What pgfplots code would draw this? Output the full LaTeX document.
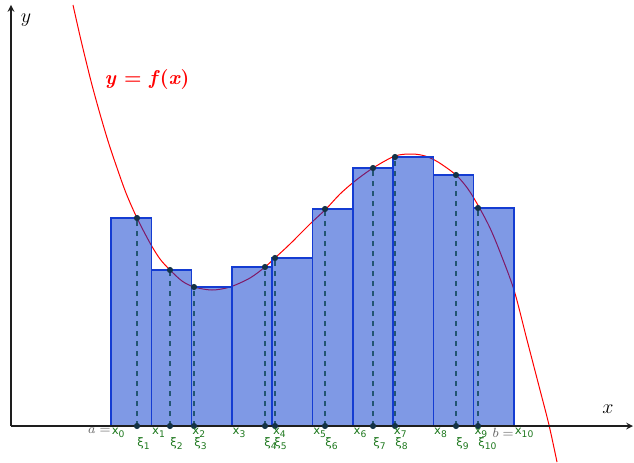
\documentclass[border=0pt]{standalone}
\usepackage{pgfplots}
\pgfplotsset{compat=1.18}
\usepackage{fontspec}
\newfontfamily\lab{DejaVu Sans}
\definecolor{barblue}{RGB}{0,51,204}
\definecolor{bardraw}{RGB}{20,60,210}
\definecolor{lblgreen}{RGB}{30,120,30}
\definecolor{ptdark}{RGB}{20,50,70}
\definecolor{dashc}{RGB}{35,85,115}
\definecolor{axgray}{RGB}{30,30,30}
\newcommand\xsub[1]{{\lab\fontsize{7}{8}\selectfont x\raisebox{-0.45ex}{\fontsize{5.5}{6}\selectfont #1}}}
\newcommand\ksub[1]{{\lab\fontsize{7}{8}\selectfont ξ\raisebox{-0.45ex}{\fontsize{5.5}{6}\selectfont #1}}}
\tikzset{glab/.style={anchor=north west, inner sep=0pt, text=lblgreen}}
\begin{document}
\begin{tikzpicture}
\begin{axis}[name=ax,x=0.6pt,y=0.6pt,xmin=-11,xmax=623,ymin=-36,ymax=426,hide axis]
\addplot[draw=none] coordinates {(-11,-36)(623,426)};
\addplot[red, line width=0.6pt, smooth, tension=0.5] coordinates {
(62,421)(69,390)(75,365)(81,341)(89,312)(97,285)(105,261)(115,233)(126,208)
(139,183)(149,167)(159,156)(171,145)(183,139)(201,136)(219,139)(239,148)
(254,159)(265,169)(279,182)(299,202)(315,217)(329,232)(344,245)(362,258)
(384,270)(401,272)(414,270)(427,264)(445,251)(457,237)(468,219)(479,198)
(489,174)(503,136)(516,86)(529,36)(538,1)(546,-36)};
\addplot[ybar interval, fill=barblue, fill opacity=0.5, draw=bardraw, line width=0.9pt] coordinates {
(100,208)(140.3,156)(180.6,139)(220.9,159)(261.2,168)(301.5,217)(341.8,258)(382.1,269)(422.4,251)(462.7,218)(503,218)};
\addplot[ycomb, dashc, line width=0.65pt, dash pattern=on 3.3pt off 2.7pt] coordinates {
(126,208)(159,156)(183,139)(254,159)(264,168)(314,217)(362,258)(384,269)(445,251)(467,218)};
\addplot[only marks, mark=*, mark size=1.6pt, ptdark] coordinates {
(126,208)(159,156)(183,139)(254,159)(264,168)(314,217)(362,258)(384,269)(445,251)(467,218)};
\addplot[only marks, mark=*, mark size=1.6pt, ptdark] coordinates {
(126,0)(159,0)(183,0)(254,0)(264,0)(314,0)(362,0)(384,0)(445,0)(467,0)};
\draw[axgray, line width=0.8pt, -stealth] (axis cs:0,0) -- (axis cs:622,0);
\draw[axgray, line width=0.8pt, -stealth] (axis cs:0,0) -- (axis cs:0,421);
\end{axis}
\begin{scope}[shift={(ax.south west)}]
\begin{scope}[shift={(6.6pt,21.6pt)}, x=0.6pt, y=0.6pt]
\node at (15,406) {\fontsize{12}{14}\selectfont $y$};
\node at (597,17) {\fontsize{12}{14}\selectfont $x$};
\node[text=red] at (136,346) {\fontsize{12}{14}\selectfont\bfseries \textit{y} = \textit{f}(\textit{x})};
\node[glab] at (100.5,-2) {\xsub{0}};
\node[glab] at (140.8,-2) {\xsub{1}};
\node[glab] at (181.1,-2) {\xsub{2}};
\node[glab] at (221.4,-2) {\xsub{3}};
\node[glab] at (261.7,-2) {\xsub{4}};
\node[glab] at (302,-2) {\xsub{5}};
\node[glab] at (342.3,-2) {\xsub{6}};
\node[glab] at (382.6,-2) {\xsub{7}};
\node[glab] at (422.9,-2) {\xsub{8}};
\node[glab] at (463.2,-2) {\xsub{9}};
\node[glab] at (503.5,-2) {\xsub{10}};
\node[glab] at (126,-11) {\ksub{1}};
\node[glab] at (159,-11) {\ksub{2}};
\node[glab] at (183,-11) {\ksub{3}};
\node[glab] at (253,-11) {\ksub{4}};
\node[glab] at (263,-11) {\ksub{5}};
\node[glab] at (314,-11) {\ksub{6}};
\node[glab] at (362,-11) {\ksub{7}};
\node[glab] at (384,-11) {\ksub{8}};
\node[glab] at (445,-11) {\ksub{9}};
\node[glab] at (467,-11) {\ksub{10}};
\node[anchor=north east, inner sep=0pt, text=black!60] at (100,-1.5) {\fontsize{8}{9}\selectfont $a=$};
\node[anchor=north east, inner sep=0pt, text=black!60] at (503,-1.5) {\fontsize{8}{9}\selectfont $b=$};
\end{scope}
\end{scope}
\end{tikzpicture}
\end{document}
